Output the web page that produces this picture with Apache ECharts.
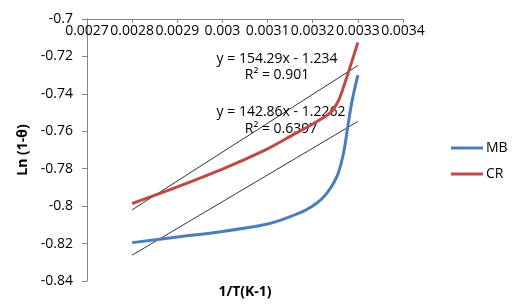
<!DOCTYPE html>
<html><head><meta charset="utf-8">
<script src="https://cdn.jsdelivr.net/npm/echarts@6/dist/echarts.min.js"></script>
<style>html,body{margin:0;padding:0;background:#fff}#c{width:513px;height:308px}</style>
</head><body><div id="c"></div>
<script>
const mbX = [0.0028, 0.0029, 0.0030, 0.0031, 0.00314, 0.003187, 0.003224, 0.003253, 0.003268, 0.003278, 0.003287, 0.0033];
const mbY = [-0.8195, -0.8165, -0.8135, -0.8095, -0.8065, -0.8018, -0.7951, -0.7845, -0.772, -0.757, -0.744, -0.730];
const crX = [0.0028, 0.0029, 0.0030, 0.0031, 0.00316, 0.0032, 0.00324, 0.003257, 0.003268, 0.00328, 0.0033];
const crY = [-0.7986, -0.7897, -0.7802, -0.7694, -0.7614, -0.7561, -0.7499, -0.7437, -0.7366, -0.7277, -0.7126];
const seriesNames = ['MB', 'CR'];
const trendSlope = [142.86, 154.29];
const trendIntercept = [-1.2262, -1.234];
const trendR2 = ['0.6397', '0.901'];
const trendRange = [0.0028, 0.0033];
const xTickLabels = ['0.0027','0.0028','0.0029','0.003','0.0031','0.0032','0.0033','0.0034'];
const yTickLabels = ['-0.84','-0.82','-0.8','-0.78','-0.76','-0.74','-0.72','-0.7'];
const xTitle = '1/T(K-1)';
const yTitle = 'Ln (1-θ)';

const FONT = 'Open Sans';
const FS = 14;
const zip = (xs, ys) => xs.map((x, i) => [x, ys[i]]);
const trendData = (k) => trendRange.map(x => [x, trendSlope[k] * x + trendIntercept[k]]);
const eqText = (k) => 'y = ' + trendSlope[k] + 'x - ' + Math.abs(trendIntercept[k]);
const txt = (x, y, text, bold) => ({type: 'text', x: x, y: y, style: {text: text, fill: '#000',
  font: (bold ? 'bold ' : '') + FS + 'px "' + FONT + '"', textAlign: 'center', textVerticalAlign: 'middle'}});

const chart = echarts.init(document.getElementById('c'), null, {renderer: 'canvas'});
chart.setOption({
  animation: false,
  backgroundColor: '#fff',
  grid: {left: 87, right: 110, top: 19, bottom: 27, containLabel: false},
  xAxis: {
    type: 'value', position: 'top', min: 0.0027, max: 0.0034, interval: 0.0001,
    axisLine: {onZero: false, lineStyle: {color: '#868686', width: 1}},
    axisTick: {inside: true, length: 4, lineStyle: {color: '#868686'}},
    splitLine: {show: false},
    axisLabel: {inside: true, margin: 5, color: '#000', fontFamily: FONT, fontSize: FS,
      formatter: v => xTickLabels[Math.round((v - 0.0027) / 0.0001)]}
  },
  yAxis: {
    type: 'value', min: -0.84, max: -0.7, interval: 0.02,
    axisLine: {show: true, onZero: false, lineStyle: {color: '#868686', width: 1}},
    axisTick: {show: true, length: 5, lineStyle: {color: '#868686'}},
    splitLine: {show: false},
    axisLabel: {margin: 14, color: '#000', fontFamily: FONT, fontSize: FS,
      formatter: v => yTickLabels[Math.round((v + 0.84) / 0.02)]},
    name: yTitle, nameLocation: 'middle', nameGap: 52, nameRotate: 90,
    nameTextStyle: {color: '#000', fontFamily: FONT, fontSize: FS, fontWeight: 'bold'}
  },
  legend: {
    data: seriesNames.map(n => ({name: n, icon: 'rect'})), orient: 'vertical', left: 446, top: 136,
    itemWidth: 32, itemHeight: 3, itemGap: 12,
    textStyle: {color: '#000', fontFamily: FONT, fontSize: FS, padding: [0, 0, 0, -2]}
  },
  series: [
    {name: 'trend0', type: 'line', data: trendData(0), symbol: 'none', silent: true,
     lineStyle: {color: '#000', width: 0.8}, z: 1},
    {name: 'trend1', type: 'line', data: trendData(1), symbol: 'none', silent: true,
     lineStyle: {color: '#000', width: 0.8}, z: 1},
    {name: seriesNames[0], type: 'line', data: zip(mbX, mbY), symbol: 'none', smooth: 0.3,
     color: '#4A7EBB', lineStyle: {color: '#4A7EBB', width: 3}, z: 2},
    {name: seriesNames[1], type: 'line', data: zip(crX, crY), symbol: 'none', smooth: 0.3,
     color: '#BE4B48', lineStyle: {color: '#BE4B48', width: 3}, z: 2}
  ],
  graphic: [
    txt(277, 59, eqText(1)),
    txt(277, 75, 'R² = ' + trendR2[1]),
    txt(281, 112, eqText(0)),
    txt(281, 129, 'R² = ' + trendR2[0]),
    txt(245, 292, xTitle, true)
  ]
});
</script></body></html>
